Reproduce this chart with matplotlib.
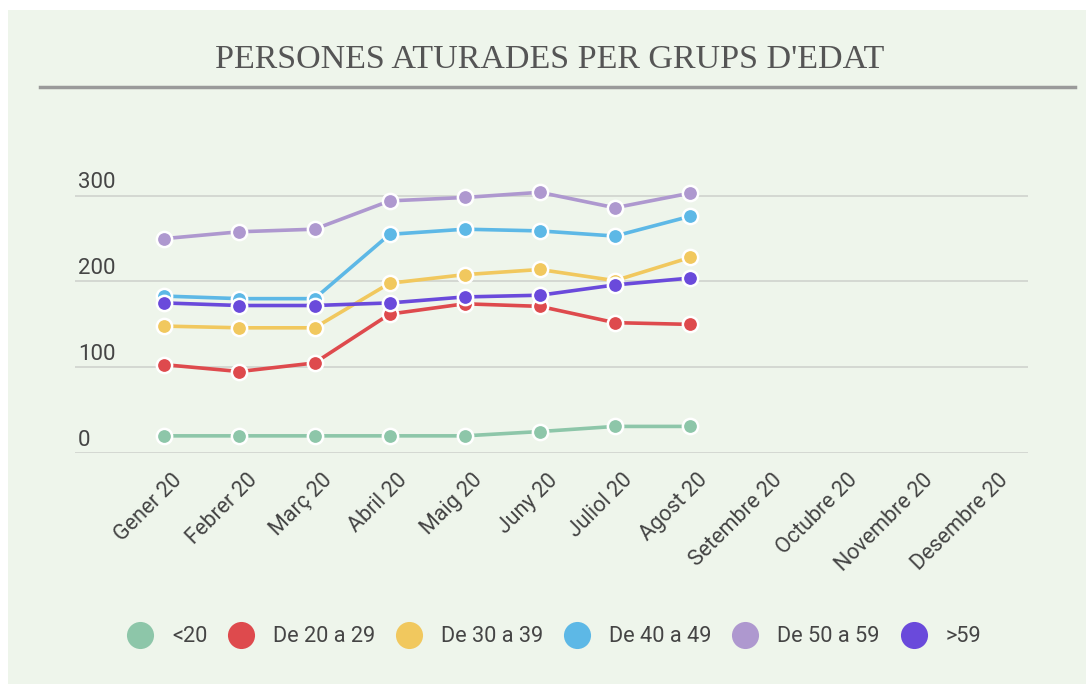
import matplotlib.pyplot as plt
from matplotlib.patches import Rectangle
from matplotlib.lines import Line2D
from matplotlib.transforms import ScaledTranslation, blended_transform_factory
import numpy as np

# data
months = ['Gener 20', 'Febrer 20', 'Març 20', 'Abril 20', 'Maig 20', 'Juny 20',
          'Juliol 20', 'Agost 20', 'Setembre 20', 'Octubre 20', 'Novembre 20',
          'Desembre 20']
groups = ['<20', 'De 20 a 29', 'De 30 a 39', 'De 40 a 49', 'De 50 a 59', '>59']
menys20 = [20, 20, 20, 20, 20, 25, 31, 31]
de20a29 = [103, 95, 105, 162, 174, 171, 152, 150]
de30a39 = [148, 146, 146, 198, 208, 214, 201, 228]
de40a49 = [183, 180, 180, 255, 261, 259, 253, 276]
de50a59 = [250, 258, 261, 294, 298, 304, 286, 303]
mes59 = [175, 172, 172, 175, 182, 184, 196, 204]
series = [menys20, de20a29, de30a39, de40a49, de50a59, mes59]
colors = ['#8DC6A9', '#DE4A4D', '#F1C85E', '#5DB8E6', '#AE98CF', '#6A4ADB']
yticks = [0, 100, 200, 300]

W, H = 1086, 684
fig = plt.figure(figsize=(W / 100, H / 100), dpi=100, facecolor='white')

# light green panel
fig.patches.append(Rectangle((8 / W, 0), 1, 1 - 10 / H, transform=fig.transFigure,
                             facecolor='#EEF5EB', edgecolor='none', zorder=-10))

# title + rule
fig.text(550 / W, 1 - 60 / H, "PERSONES ATURADES PER GRUPS D'EDAT",
         family='Liberation Serif', fontsize=24.5, color='#555555',
         ha='center', va='center')
fig.add_artist(Line2D([40 / W, 1075 / W], [1 - 87 / H, 1 - 87 / H],
                      transform=fig.transFigure, color='#9A9A9A', lw=2.5))

# axes placed in pixel terms
left, right, bottom, top = 75, 1028, 453, 110
ax = fig.add_axes([left / W, 1 - bottom / H, (right - left) / W, (bottom - top) / H])
ax.set_facecolor('none')
ax.set_ylim(0, 400)
ax.set_xlim(-1.19, 11.5)
for s in ax.spines.values():
    s.set_visible(False)

for v in yticks:
    ax.axhline(v, color='#CFD3CD', lw=1.2, zorder=0)
ax.set_yticks([])
trans = blended_transform_factory(ax.transAxes, ax.transData)
for v in yticks:
    ax.text(0.003, v + 15, str(v), transform=trans, ha='left', va='center',
            family='Roboto', fontsize=16, color='#454545')

x = np.arange(len(months))
for vals, c in zip(series, colors):
    ax.plot(x[:len(vals)], vals, color=c, lw=2.6, marker='o', markersize=11,
            markerfacecolor=c, markeredgecolor='white', markeredgewidth=1.8,
            zorder=3)

ax.set_xticks(x)
ax.set_xticklabels(months, rotation=45, ha='right', rotation_mode='anchor',
                   family='Roboto', fontsize=15.5, color='#434343')
ax.tick_params(axis='x', length=0, pad=12)
shift = ScaledTranslation(7 / 100, 0, fig.dpi_scale_trans)
for lab in ax.get_xticklabels():
    lab.set_transform(lab.get_transform() + shift)

# legend
handles = [Line2D([], [], ls='none', marker='o', markersize=19.5,
                  markerfacecolor=c, markeredgecolor='none') for c in colors]
leg = fig.legend(handles, groups, loc='center', ncol=6,
                 bbox_to_anchor=(554 / W, 1 - 637 / H), frameon=False,
                 prop={'family': 'Roboto', 'size': 15.7}, handlelength=1.2,
                 handletextpad=0.87, columnspacing=0.95)
for t in leg.get_texts():
    t.set_color('#454545')

fig.savefig('out.png', dpi=100, facecolor='white')
